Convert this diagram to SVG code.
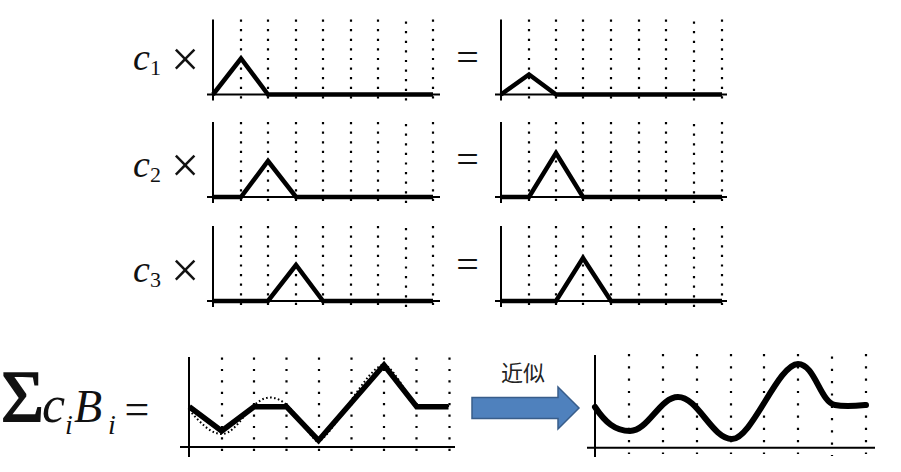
<svg xmlns="http://www.w3.org/2000/svg" width="901" height="472" viewBox="0 0 901 472">
<style>
.bg{fill:#ffffff}
.ax{stroke:#000;stroke-width:2;fill:none}
.dot{stroke:#000;stroke-width:2.2;stroke-dasharray:2.2 7.4;fill:none}
.dotb{stroke:#000;stroke-width:2.2;stroke-dasharray:2.2 9.2;fill:none}
.dotc{stroke:#000;stroke-width:2.2;stroke-dasharray:2.2 10.1;fill:none}
.fn{stroke:#000;stroke-width:4.5;fill:none;stroke-linejoin:miter;stroke-miterlimit:10}
.fnb{stroke:#000;stroke-width:5.5;fill:none;stroke-linejoin:miter;stroke-miterlimit:10}
.fnc{stroke:#000;stroke-width:6;fill:none;stroke-linecap:round}
.approx{stroke:#000;stroke-width:2;stroke-dasharray:1.6 2.4;fill:none}
.m{font-family:"Liberation Serif","DejaVu Serif",serif;fill:#111}
.it{font-style:italic}
.cjk{font-family:"Noto Sans CJK SC","Noto Sans CJK JP",sans-serif;fill:#222}
</style>
<defs>
<g id="gridL">
<line class="dot" x1="241" y1="0" x2="241" y2="79"/>
<line class="dot" x1="268" y1="0" x2="268" y2="79"/>
<line class="dot" x1="296" y1="0" x2="296" y2="79"/>
<line class="dot" x1="323" y1="0" x2="323" y2="79"/>
<line class="dot" x1="351" y1="0" x2="351" y2="79"/>
<line class="dot" x1="378" y1="0" x2="378" y2="79"/>
<line class="dot" x1="406" y1="2" x2="406" y2="81"/>
<line class="dot" x1="433" y1="0" x2="433" y2="79"/>
<line class="ax" x1="213" y1="0" x2="213" y2="81"/>
<line class="ax" x1="207" y1="75" x2="440" y2="75"/>
</g>
<g id="gridR">
<line class="dot" x1="529" y1="0" x2="529" y2="79"/>
<line class="dot" x1="556" y1="0" x2="556" y2="79"/>
<line class="dot" x1="583" y1="0" x2="583" y2="79"/>
<line class="dot" x1="611" y1="0" x2="611" y2="79"/>
<line class="dot" x1="639" y1="0" x2="639" y2="79"/>
<line class="dot" x1="666" y1="0" x2="666" y2="79"/>
<line class="dot" x1="694" y1="2" x2="694" y2="81"/>
<line class="dot" x1="722" y1="0" x2="722" y2="79"/>
<line class="ax" x1="501" y1="0" x2="501" y2="81"/>
<line class="ax" x1="495" y1="75" x2="727" y2="75"/>
</g>
</defs>
<rect class="bg" x="0" y="0" width="901" height="472"/>

<g id="row1-left">
<use href="#gridL" transform="translate(0,19.5)"/>
<polyline class="fn" points="213,94.5 241,58.5 268,94.5 433,94.5"/>
<text class="m it" x="133" y="70" font-size="38">c</text>
<text class="m" x="150" y="75" font-size="22">1</text>
<text class="m" x="185" y="76" font-size="50" text-anchor="middle">×</text>
</g>
<g id="row1-right">
<text class="m" x="467.5" y="70.5" font-size="40" text-anchor="middle">=</text>
<use href="#gridR" transform="translate(0,19.5)"/>
<polyline class="fn" points="501,94.5 529,74.5 556,94.5 722,94.5"/>
</g>

<g id="row2-left">
<use href="#gridL" transform="translate(0,122)"/>
<polyline class="fn" points="213,197 241,197 268,161 296,197 433,197"/>
<text class="m it" x="133" y="177" font-size="38">c</text>
<text class="m" x="150" y="182" font-size="22">2</text>
<text class="m" x="185" y="182" font-size="50" text-anchor="middle">×</text>
</g>
<g id="row2-right">
<text class="m" x="467.5" y="172.5" font-size="40" text-anchor="middle">=</text>
<use href="#gridR" transform="translate(0,122)"/>
<polyline class="fn" points="501,197 529,197 556,153 583,197 722,197"/>
</g>

<g id="row3-left">
<use href="#gridL" transform="translate(0,226)"/>
<polyline class="fn" points="213,301 268,301 296,265 323,301 433,301"/>
<text class="m it" x="133" y="282" font-size="38">c</text>
<text class="m" x="150" y="287" font-size="22">3</text>
<text class="m" x="185" y="286.5" font-size="50" text-anchor="middle">×</text>
</g>
<g id="row3-right">
<text class="m" x="467.5" y="277.5" font-size="40" text-anchor="middle">=</text>
<use href="#gridR" transform="translate(0,226)"/>
<polyline class="fn" points="501,301 556,301 583,258 611,301 722,301"/>
</g>

<g id="sum-label">
<text class="m" x="1" y="422" font-size="74" stroke="#111" stroke-width="1.6">Σ</text>
<text class="m it" x="42" y="422" font-size="52">c</text>
<text class="m it" x="65" y="434" font-size="28">i</text>
<text class="m it" x="74" y="422" font-size="46">B</text>
<text class="m it" x="108" y="434" font-size="28">i</text>
<text class="m" x="137" y="423.5" font-size="44" text-anchor="middle">=</text>
</g>

<g id="sum-plot">
<line class="dotb" x1="222" y1="357.5" x2="222" y2="451"/>
<line class="dotb" x1="254" y1="357.5" x2="254" y2="451"/>
<line class="dotb" x1="286.5" y1="357.5" x2="286.5" y2="451"/>
<line class="dotb" x1="319" y1="357.5" x2="319" y2="451"/>
<line class="dotb" x1="351.5" y1="357.5" x2="351.5" y2="451"/>
<line class="dotb" x1="384" y1="357.5" x2="384" y2="451"/>
<line class="dotb" x1="416.5" y1="357.5" x2="416.5" y2="451"/>
<line class="dotb" x1="449.5" y1="357.5" x2="449.5" y2="451"/>
<line class="ax" x1="189" y1="357" x2="189" y2="457"/>
<line class="ax" x1="180" y1="447" x2="455" y2="447"/>
<path class="approx" d="M189,410 C200,422 210,434 222,434 C238,434 250,398 270,397.5 C290,398 300,425 318,443 C340,425 365,370 384,364 C398,372 408,400 417,406 L450,406"/>
<polyline class="fnb" points="189.3,406.7 221.7,431 254,406.7 286.5,406.7 318.5,440.5 384,365 416.7,406.7 448.5,406.7"/>
</g>

<g id="connectors">
<polygon points="472,397.5 558,397.5 558,387 579,408 558,429 558,418.5 472,418.5" fill="#4f81bd" stroke="#385d8a" stroke-width="1.5"/>
<text class="cjk" x="501" y="381" font-size="22">近似</text>
</g>

<g id="approx-plot">
<line class="dotc" x1="629" y1="354" x2="629" y2="454"/>
<line class="dotc" x1="663" y1="354" x2="663" y2="454"/>
<line class="dotc" x1="697" y1="354" x2="697" y2="454"/>
<line class="dotc" x1="731" y1="354" x2="731" y2="454"/>
<line class="dotc" x1="764" y1="354" x2="764" y2="454"/>
<line class="dotc" x1="798" y1="354" x2="798" y2="454"/>
<line class="dotc" x1="832" y1="356.5" x2="832" y2="456"/>
<line class="dotc" x1="866" y1="354" x2="866" y2="454"/>
<line class="ax" x1="595" y1="355" x2="595" y2="457"/>
<line class="ax" x1="587" y1="447.7" x2="875" y2="447.7"/>
<path class="fnc" d="M595,407 C605,422 615,431 630,431 C648,431 660,397 678,397 C698,397 712,439 732,439 C752,439 778,364 798,364 C815,364 820,402 835,405 C845,407 855,406 866,405"/>
</g>
</svg>
